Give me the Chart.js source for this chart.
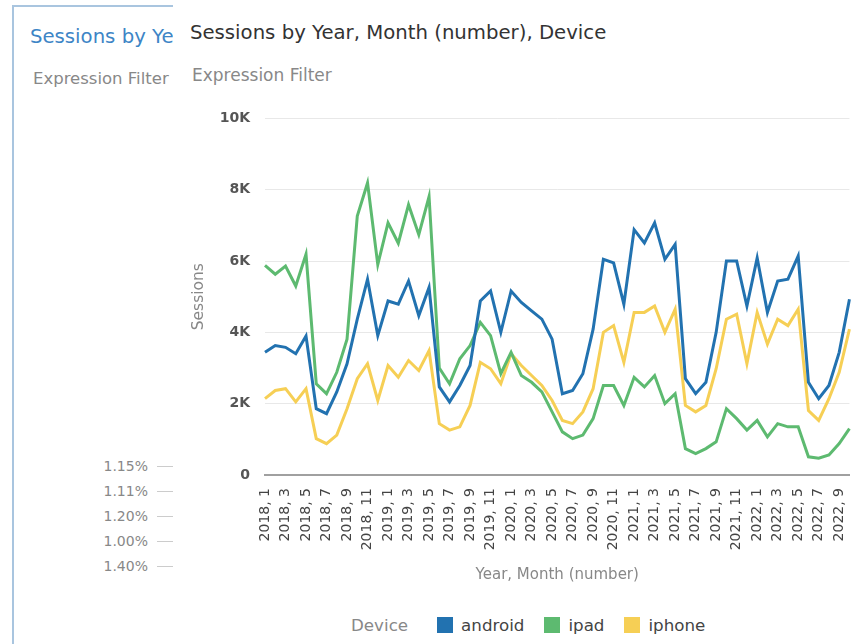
<!DOCTYPE html>
<html>
<head>
<meta charset="utf-8">
<script src="https://cdn.jsdelivr.net/npm/chart.js@4"></script>
<style>
  html, body { margin: 0; padding: 0; width: 856px; height: 644px; overflow: hidden; background: #fff; font-family: "DejaVu Sans", sans-serif; }
  #back { position: absolute; left: 12px; top: 5px; width: 900px; height: 700px; border-left: 2px solid #a9c5df; border-top: 2px solid #a9c5df; }
  .txt { position: absolute; white-space: nowrap; line-height: 1; }
  .pct { position: absolute; left: 0; width: 148px; text-align: right; font-size: 14px; line-height: 1; color: #888; }
  .tick { position: absolute; left: 157px; width: 20px; height: 1px; background: #ccc; }
  #front { position: absolute; left: 173px; top: 0; width: 683px; height: 644px; background: #fff; overflow: hidden; }
  #chart { position: absolute; left: 7px; top: 95px; }
  #legend { position: absolute; left: 178px; top: 617px; display: flex; align-items: center; font-size: 16.7px; line-height: 1; }
  #legend .head { color: #888; margin-right: 29px; }
  #legend .sq { width: 16px; height: 16px; margin-right: 8px; }
  #legend .lab { color: #444; margin-right: 20px; }
</style>
</head>
<body>
<div id="back"></div>
<div class="txt" style="left:30px;top:26.5px;font-size:19.7px;color:#3d85c6">Sessions by Year, Month (number), Device</div>
<div class="txt" style="left:33px;top:71px;font-size:16.5px;color:#888">Expression Filter</div>
<div id="pcts"></div>

<div id="front">
  <div class="txt" style="left:17px;top:22.5px;font-size:19.7px;color:#333">Sessions by Year, Month (number), Device</div>
  <div class="txt" style="left:19px;top:67px;font-size:17px;color:#888">Expression Filter</div>
  <canvas id="chart" width="676" height="505"></canvas>
  <div id="legend"></div>
</div>

<script>
// background panel labels
const pctLabels = ['1.15%', '1.11%', '1.20%', '1.00%', '1.40%'];

const labels = [
  '2018, 1','2018, 2','2018, 3','2018, 4','2018, 5','2018, 6','2018, 7','2018, 8','2018, 9','2018, 10','2018, 11','2018, 12',
  '2019, 1','2019, 2','2019, 3','2019, 4','2019, 5','2019, 6','2019, 7','2019, 8','2019, 9','2019, 10','2019, 11','2019, 12',
  '2020, 1','2020, 2','2020, 3','2020, 4','2020, 5','2020, 6','2020, 7','2020, 8','2020, 9','2020, 10','2020, 11','2020, 12',
  '2021, 1','2021, 2','2021, 3','2021, 4','2021, 5','2021, 6','2021, 7','2021, 8','2021, 9','2021, 10','2021, 11','2021, 12',
  '2022, 1','2022, 2','2022, 3','2022, 4','2022, 5','2022, 6','2022, 7','2022, 8','2022, 9','2022, 10'
];

const android = [
  3440, 3630, 3580, 3400, 3900, 1860, 1720, 2330, 3120, 4370,
  5490, 3910, 4880, 4790, 5440, 4470, 5260, 2470, 2050, 2510,
  3070, 4880, 5160, 4000, 5160, 4840, 4600, 4370, 3810, 2280,
  2370, 2840, 4090, 6050, 5950, 4790, 6880, 6510, 7070, 6050,
  6470, 2700, 2280, 2600, 4000, 6000, 6000, 4740, 6090, 4560,
  5440, 5490, 6140, 2600, 2140, 2510, 3440, 4930
];
const ipad = [
  5880, 5630, 5860, 5300, 6190, 2560, 2280, 2880, 3810, 7260,
  8190, 5900, 7070, 6500, 7580, 6740, 7810, 3000, 2560, 3260,
  3630, 4280, 3910, 2840, 3440, 2790, 2600, 2330, 1770, 1210,
  1020, 1120, 1580, 2510, 2510, 1950, 2740, 2470, 2790, 2000,
  2280, 740, 600, 740, 930, 1860, 1580, 1260, 1530, 1070,
  1440, 1350, 1350, 510, 470, 560, 880, 1300
];
const iphone = [
  2140, 2370, 2420, 2050, 2420, 1020, 880, 1120, 1860, 2700,
  3120, 2090, 3070, 2740, 3210, 2930, 3490, 1440, 1260, 1350,
  1950, 3160, 2980, 2560, 3400, 3070, 2790, 2510, 2090, 1530,
  1440, 1770, 2420, 4000, 4190, 3160, 4560, 4560, 4740, 4000,
  4650, 1950, 1770, 1950, 2980, 4370, 4510, 3120, 4560, 3670,
  4370, 4190, 4650, 1810, 1530, 2140, 2880, 4090
];

const seriesNames = ['android', 'ipad', 'iphone'];
const seriesColors = ['#2272b0', '#5dba70', '#f6cf55'];
const yTicks = [0, 2000, 4000, 6000, 8000, 10000];

// percent labels on the panel behind
const pctBox = document.getElementById('pcts');
pctLabels.forEach((t, i) => {
  const cy = 466 + i * 25;
  pctBox.insertAdjacentHTML('beforeend',
    `<div class="pct" style="top:${cy - 6.7}px">${t}</div><div class="tick" style="top:${cy}px"></div>`);
});

// legend
const legend = document.getElementById('legend');
legend.innerHTML = '<span class="head">Device</span>' + seriesNames.map((n, i) =>
  `<span class="sq" style="background:${seriesColors[i]}"></span><span class="lab">${n}</span>`).join('');

Chart.defaults.font.family = '"DejaVu Sans", sans-serif';

const seriesData = [android, ipad, iphone];

new Chart(document.getElementById('chart'), {
  type: 'line',
  data: {
    labels: labels,
    datasets: seriesNames.map((n, i) => ({
      label: n,
      data: seriesData[i],
      borderColor: seriesColors[i],
      backgroundColor: seriesColors[i],
      borderWidth: 3,
      pointRadius: 0,
      tension: 0,
    }))
  },
  options: {
    responsive: false,
    animation: false,
    layout: { padding: { top: 18, right: 0, bottom: 0, left: 0 } },
    plugins: { legend: { display: false }, tooltip: { enabled: false } },
    scales: {
      x: {
        afterFit: s => { s.height = 125; },
        grid: { display: true, color: 'rgba(0,0,0,0)', drawTicks: true, tickLength: 13, tickColor: 'rgba(0,0,0,0)' },
        border: { display: true, color: '#a0a0a0', width: 2 },
        ticks: {
          autoSkip: false, minRotation: 90, maxRotation: 90, padding: 0,
          color: '#444', font: { size: 14 },
          callback: (v, i) => (i % 2 === 0 ? labels[i] : null),
        },
        title: { display: true, text: 'Year, Month (number)', color: '#888', font: { size: 15 }, padding: { top: 0, bottom: 16 } },
      },
      y: {
        min: 0, max: 10000,
        afterFit: s => { s.width = 85; },
        afterBuildTicks: s => { s.ticks = yTicks.map(v => ({ value: v })); },
        grid: { color: '#e8e8e8', drawTicks: false },
        border: { display: false },
        ticks: {
          padding: 15, color: '#555', font: { size: 14, weight: 'bold' },
          callback: v => (v === 0 ? '0' : v / 1000 + 'K'),
        },
        title: { display: true, text: 'Sessions', color: '#888', font: { size: 15.5 }, padding: { top: 10, bottom: 0 } },
      }
    }
  }
});
</script>
</body>
</html>
